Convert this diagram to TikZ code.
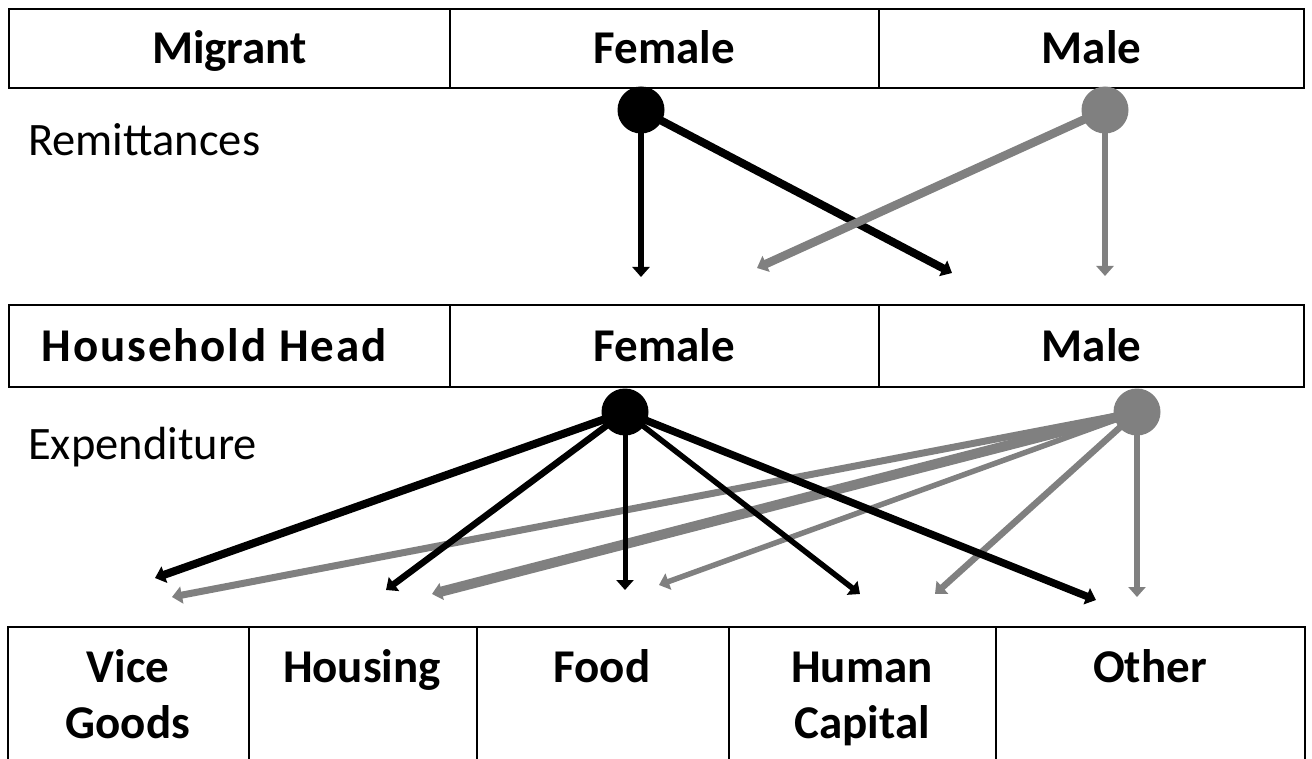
\documentclass[tikz,border=0pt]{standalone}
\usepackage{fontspec}
\setmainfont{Carlito}
\usetikzlibrary{arrows.meta}
\definecolor{mgray}{HTML}{808080}
\begin{document}
\begin{tikzpicture}[x=1pt,y=-1pt,
  cell/.style={draw=black, line width=2.2pt, inner sep=0pt,
    font=\fontsize{47}{56}\selectfont\bfseries, text height=30pt, text depth=0pt},
  ecell/.style={draw=black, line width=2.2pt, inner sep=0pt},
  ctext/.style={inner sep=0pt, font=\fontsize{47}{56}\selectfont\bfseries, text height=30pt, text depth=0pt},
  blab/.style={inner sep=0pt, align=center, font=\fontsize{47}{56}\selectfont\bfseries},
  plab/.style={inner sep=0pt, font=\fontsize{46.5}{56}\selectfont},
  bdot/.style={circle, fill=black, inner sep=0pt, minimum size=47pt},
  gdot/.style={circle, fill=mgray, inner sep=0pt, minimum size=47pt},
  tip/.style={-{Triangle[width=17pt,length=10pt]}},
  blk/.style={tip, draw=black, fill=black},
  gry/.style={tip, draw=mgray, fill=mgray},
]
\useasboundingbox (0,0) rectangle (1312,759);

% top table
\node[cell, minimum width=441pt, minimum height=79pt] (mig) at (229.5,48.5) {Migrant};
\node[cell, minimum width=429pt, minimum height=79pt] (mfem) at (664.5,48.5) {Female};
\node[cell, minimum width=425pt, minimum height=79pt] (mmal) at (1091.5,48.5) {Male};

% middle table
\node[ecell, minimum width=441pt, minimum height=82pt] (hh) at (229.5,346) {};
\node[ctext] (hht) at (214,346) {\addfontfeature{LetterSpace=4}Household Head};
\node[cell, minimum width=429pt, minimum height=82pt] (hfem) at (664.5,346) {Female};
\node[cell, minimum width=425pt, minimum height=82pt] (hmal) at (1091.5,346) {Male};

% bottom table
\node[ecell, minimum width=241pt, minimum height=160pt, anchor=north west] (cv) at (7,626) {};
\node[ecell, minimum width=228pt, minimum height=160pt, anchor=north west] (ch) at (248,626) {};
\node[ecell, minimum width=252pt, minimum height=160pt, anchor=north west] (cf) at (476,626) {};
\node[ecell, minimum width=267pt, minimum height=160pt, anchor=north west] (cc) at (728,626) {};
\node[ecell, minimum width=309pt, minimum height=160pt, anchor=north west] (co) at (995,626) {};
\node[blab, anchor=base] (tv) at (128,738) {Vice\\Goods};
\node[blab, anchor=base] (th) at (362,682) {Housing};
\node[blab, anchor=base] (tf) at (602,682) {Food};
\node[blab, anchor=base] (tc) at (862,738) {Human\\Capital};
\node[blab, anchor=base] (to) at (1150,682) {Other};

% labels
\node[plab, anchor=base west] (rem) at (28,156) {Remittances};
\node[plab, anchor=base west] (exp) at (28,459) {Expenditure};

% dots
\node[bdot] (rf) at (641,110) {};
\node[gdot] (rm) at (1105,110) {};
\node[bdot] (ef) at (625,412) {};
\node[gdot] (em) at (1137,412) {};

% arrow ends
\coordinate (r1) at (641,277);
\coordinate (r2) at (952,273);
\coordinate (r3) at (757,268);
\coordinate (r4) at (1105,276);

\coordinate (bv) at (155,578);
\coordinate (bh) at (386,590);
\coordinate (bf) at (625,590);
\coordinate (bc) at (860,594);
\coordinate (bo) at (1096,600);
\coordinate (gv) at (172,597);
\coordinate (gh) at (432,594);
\coordinate (gf) at (659,585);
\coordinate (gc) at (935,594);
\coordinate (go) at (1137,597);

% remittance arrows
\draw[blk, line width=6pt] (rf.center) -- (r1);
\draw[blk, line width=8pt] (rf.center) -- (r2);
\draw[gry, line width=8.5pt] (rm.center) -- (r3);
\draw[gry, line width=6pt] (rm.center) -- (r4);

% expenditure arrows
\draw[gry, line width=7pt] (em.center) -- (gv);
\draw[gry, line width=10pt] (em.center) -- (gh);
\draw[gry, line width=5.5pt] (em.center) -- (gf);
\draw[gry, line width=6.5pt] (em.center) -- (gc);
\draw[gry, line width=6pt] (em.center) -- (go);
\draw[blk, line width=8pt] (ef.center) -- (bv);
\draw[blk, line width=6.5pt] (ef.center) -- (bh);
\draw[blk, line width=5pt] (ef.center) -- (bf);
\draw[blk, line width=5.5pt] (ef.center) -- (bc);
\draw[blk, line width=7.5pt] (ef.center) -- (bo);
\end{tikzpicture}
\end{document}
